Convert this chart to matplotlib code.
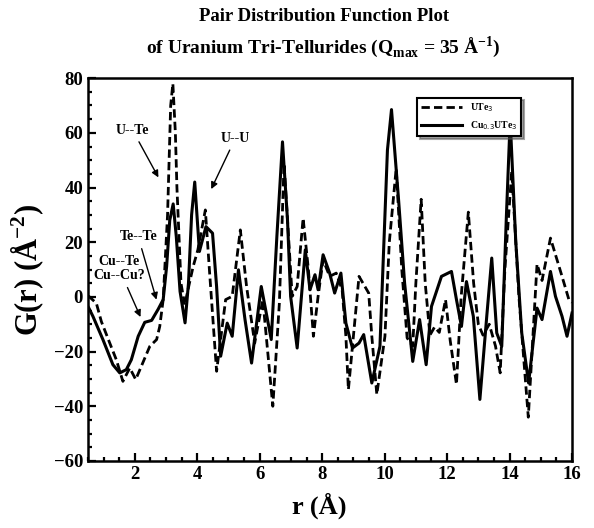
import matplotlib.pyplot as plt
from matplotlib.ticker import MultipleLocator

# UTe3 (dashed)
r_ute3 = [0.5, 0.53, 0.77, 0.93, 1.2, 1.41, 1.62, 1.84, 2.03, 2.21, 2.48, 2.7, 2.8, 2.91,
          3.05, 3.15, 3.22, 3.3, 3.35, 3.48, 3.6, 3.75, 3.87,
          4.02, 4.26, 4.39, 4.62, 4.91, 5.12, 5.38, 5.58, 5.84, 6.1, 6.42, 6.63, 6.78,
          7.04, 7.2, 7.39, 7.56, 7.72, 7.87, 8.03, 8.24, 8.45, 8.64, 8.76, 8.84, 9.02,
          9.18, 9.49, 9.59, 9.75, 10.01, 10.15, 10.37, 10.55, 10.72, 10.9, 11.0, 11.17,
          11.3, 11.45, 11.6, 11.75, 11.95, 12.1, 12.3, 12.45, 12.68, 12.85, 13.0, 13.15,
          13.35, 13.55, 13.7, 13.85, 14.07, 14.3, 14.6, 14.88, 15.04, 15.31, 15.68, 15.9, 16.0]
g_ute3 = [0.0, 0.2, -2.3, -9.0, -16.9, -23.0, -30.9, -26.0, -30.2, -25.4, -18.1, -15.6, -10.8, -1.0,
          30.0, 70.0, 78.0, 60.0, 40.0, 5.0, -3.0, 5.0, 11.1,
          17.2, 31.8, 9.9, -27.2, -1.0, 0.2, 24.5, 3.8, -16.9, -1.0, -40.0, -2.3, 48.8,
          0.2, 3.8, 28.8, 9.9, -14.4, 0.2, 13.6, 7.5, 8.7, 2.6, -14.4, -33.9, -12.0,
          7.5, 1.4, -14.4, -35.7, -14.4, 20.0, 47.0, 10.0, -15.0, -18.0, 5.0, 35.7,
          5.0, -14.0, -11.0, -13.0, -1.0, -16.0, -32.0, 0.0, 31.0, 5.0, -10.0, -14.0,
          -10.0, -18.0, -27.8, 10.0, 46.0, 0.0, -44.0, 12.0, 6.0, 21.5, 7.5, -1.0, -2.0]

# Cu0.3UTe3 (solid)
r_cu = [0.5, 0.53, 0.66, 0.98, 1.3, 1.52, 1.73, 1.89, 2.11, 2.32, 2.54, 2.75, 2.91, 3.02,
        3.12, 3.23, 3.33, 3.45, 3.61, 3.72, 3.82, 3.92,
        4.07, 4.28, 4.49, 4.62, 4.75, 4.96, 5.12, 5.32, 5.53, 5.74, 6.05, 6.37, 6.55,
        6.73, 6.89, 6.99, 7.2, 7.46, 7.61, 7.77, 7.87, 8.03, 8.24, 8.4, 8.6, 8.76,
        8.97, 9.18, 9.33, 9.59, 9.85, 10.09, 10.22, 10.45, 10.64, 10.9, 11.12, 11.33,
        11.5, 11.82, 12.14, 12.3, 12.46, 12.62, 12.84, 13.05, 13.27, 13.43, 13.59,
        13.75, 13.9, 14.02, 14.2, 14.39, 14.61, 14.88, 15.04, 15.31, 15.47, 15.68,
        15.84, 16.0]
g_cu = [-3.5, -4.1, -7.1, -15.6, -24.8, -27.8, -26.6, -23.0, -14.4, -9.3, -8.6, -4.5, -1.0, 11.1,
        28.0, 34.0, 22.0, 2.0, -9.5, 5.0, 30.0, 42.0,
        16.6, 25.7, 23.3, 3.8, -21.7, -9.6, -14.4, 9.9, -8.3, -24.2, 3.8, -15.6, 22.1,
        56.7, 28.2, 0.2, -18.7, 17.2, 2.6, 8.1, 2.6, 15.4, 8.7, 1.4, 8.7, -9.6,
        -18.7, -16.9, -13.8, -31.5, -18.1, 53.7, 68.5, 35.0, 5.0, -23.6, -8.3, -24.8,
        -3.5, 7.5, 9.3, -1.0, -10.8, 5.6, -7.1, -37.5, -7.1, 14.2, -13.2,
        -18.1, 30.0, 64.7, 20.0, -13.2, -31.5, -4.1, -8.3, 9.3, 0.2, -7.1,
        -14.4, -5.9]

serif = 'Liberation Serif'

fig = plt.figure(figsize=(5.94, 5.28), dpi=100)
ax = fig.add_axes([0.148, 0.127, 0.815, 0.725])

ax.plot(r_ute3, g_ute3, color='black', lw=2.0, linestyle=(0, (3, 1.5)), label='UTe$_3$')
ax.plot(r_cu, g_cu, color='black', lw=2.2, label='Cu$_{0.3}$UTe$_3$')

ax.set_xlim(0.5, 16)
ax.set_ylim(-60, 80)
ax.xaxis.set_major_locator(MultipleLocator(2))
ax.xaxis.set_minor_locator(MultipleLocator(0.5))
ax.yaxis.set_major_locator(MultipleLocator(20))
ax.yaxis.set_minor_locator(MultipleLocator(5))
ax.tick_params(which='both', direction='in', top=False, right=False, width=1.6,
               labelsize=13.5)
ax.tick_params(which='major', length=6)
ax.tick_params(which='minor', length=3)
for lab in ax.get_xticklabels() + ax.get_yticklabels():
    lab.set_fontfamily(serif)
    lab.set_fontweight('bold')
for sp in ax.spines.values():
    sp.set_linewidth(1.8)

ax.set_xlabel('r (Å)', fontsize=19, fontweight='bold', family=serif)
ax.xaxis.set_label_coords(0.478, -0.083)
ax.set_ylabel('G(r) (Å$^{\\mathregular{-2}}$)', fontsize=22, fontweight='bold',
              family=serif)
ax.yaxis.set_label_coords(-0.085, 0.5)
fig.text(0.545, 0.968, 'Pair Distribution Function Plot', ha='center', va='center',
         fontsize=13.5, fontweight='bold', family=serif)
fig.text(0.545, 0.91, 'of Uranium Tri-Tellurides (Q$_{\\mathregular{max}}$ = 35 Å$^{\\mathregular{-1}}$)',
         ha='center', va='center', fontsize=14, fontweight='bold', family=serif)

# annotations
ann = dict(fontsize=10, fontweight='bold', family=serif, ha='center', va='center')
arw = dict(arrowstyle='-|>', color='black', lw=1.0, mutation_scale=10)
ax.annotate('U--Te', xy=(2.8, 42.8), xytext=(1.93, 61), arrowprops=arw, **ann)
ax.annotate('U--U', xy=(4.41, 38.5), xytext=(5.22, 58), arrowprops=arw, **ann)
ax.annotate('Te--Te', xy=(2.72, -2), xytext=(2.11, 22), arrowprops=arw, **ann)
ax.annotate('Cu--Te\nCu--Cu?', xy=(2.22, -8.3), xytext=(1.5, 10.3), arrowprops=arw,
            linespacing=1.1, **ann)

leg = ax.legend(loc='upper left', bbox_to_anchor=(0.67, 0.962), fancybox=False,
                shadow=True, edgecolor='black', handlelength=4.2,
                prop={'family': serif, 'weight': 'bold', 'size': 7})
leg.get_frame().set_linewidth(1.5)

fig.savefig('out.png', dpi=100)
